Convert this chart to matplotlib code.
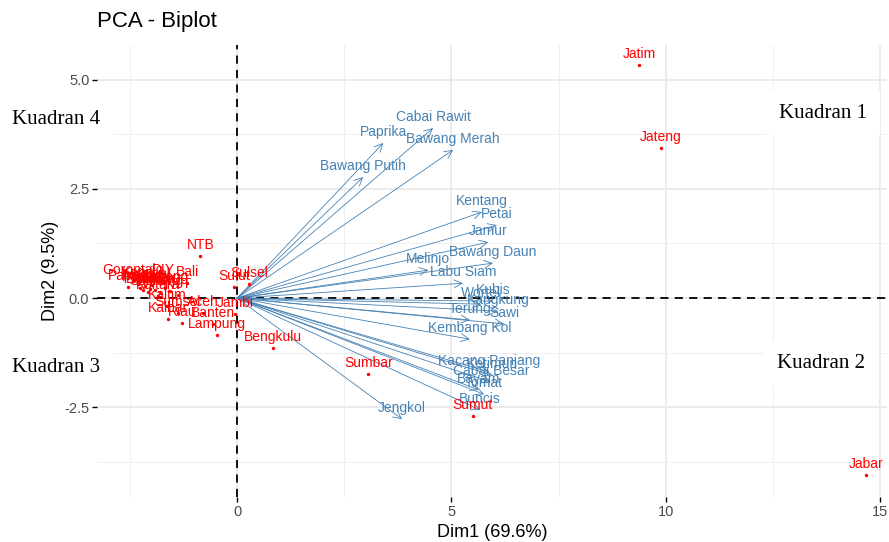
import numpy as np
import matplotlib
matplotlib.use("Agg")
import matplotlib.pyplot as plt
from matplotlib.ticker import FixedLocator

plt.rcParams['font.family'] = ['Liberation Sans', 'DejaVu Sans']

# ------------------------------
# Koordinat individu (provinsi)
# ------------------------------
provinsi = ["Jatim", "Jateng", "Jabar", "Sumbar", "Sumut", "Bengkulu", "NTB",
            "Sulsel", "Sulut", "Jambi", "Banten", "Lampung", "Riau", "Kalbar",
            "Sumsel", "Aceh", "Kaltim", "NTT", "Papua", "Pabar", "Maluku",
            "Malut", "Sulbar", "Sultra", "Sulteng", "Kalteng", "Kaltara",
            "Kalsel", "Kepri", "Babel", "DKI", "Gorontalo", "DIY", "Bali"]
dim1_ind = [9.38, 9.89, 14.67, 3.06, 5.50, 0.84, -0.86,
            0.28, -0.07, -0.05, -0.56, -0.47, -1.28, -1.61,
            -1.38, -0.79, -1.63, -1.38, -2.54, -2.26, -2.15,
            -2.03, -1.91, -2.08, -1.80, -1.68, -1.84,
            -1.98, -2.31, -2.19, -1.56, -2.43, -1.73, -1.17]
dim2_ind = [5.33, 3.43, -4.05, -1.74, -2.70, -1.14, 0.96,
            0.32, 0.25, -0.37, -0.59, -0.85, -0.57, -0.48,
            -0.34, -0.34, -0.18, 0.07, 0.25, 0.23, 0.27,
            0.20, 0.18, 0.14, 0.14, 0.23, 0.05,
            0.30, 0.32, 0.18, 0.16, 0.38, 0.38, 0.34]

# ------------------------------
# Koordinat variabel (komoditas)
# ------------------------------
variabel = ["Cabai Rawit", "Paprika", "Bawang Merah", "Bawang Putih", "Kentang",
            "Petai", "Jamur", "Bawang Daun", "Melinjo", "Labu Siam", "Kubis",
            "Wortel", "Kangkung", "Terung", "Sawi", "Kembang Kol",
            "Kacang Panjang", "Ketimun", "Cabai Besar", "Bayam", "Tomat",
            "Buncis", "Jengkol"]
dim1_var = [4.57, 3.41, 5.04, 2.94, 5.71,
            6.06, 5.86, 5.97, 4.46, 5.27, 5.97,
            5.69, 6.09, 5.43, 6.23, 5.43,
            5.88, 5.95, 5.92, 5.64, 5.76,
            5.67, 3.85]
dim2_var = [3.89, 3.55, 3.39, 2.77, 1.97,
            1.67, 1.28, 0.80, 0.64, 0.34, -0.07,
            -0.14, -0.30, -0.50, -0.59, -0.94,
            -1.69, -1.76, -1.92, -2.10, -2.20,
            -2.56, -2.77]

kuadran = ["Kuadran 1", "Kuadran 2", "Kuadran 3", "Kuadran 4"]

W, H = 889, 542
fig = plt.figure(figsize=(W / 100, H / 100), dpi=100)
ax = fig.add_axes([97 / W, 1 - 497 / H, (887 - 97) / W, (497 - 45) / H])

ax.set_xlim(-3.27, 15.16)
ax.set_ylim(-4.55, 5.79)

# grid ala theme_minimal
ax.xaxis.set_major_locator(FixedLocator([0, 5, 10, 15]))
ax.yaxis.set_major_locator(FixedLocator([-2.5, 0, 2.5, 5]))
ax.xaxis.set_minor_locator(FixedLocator([-2.5, 2.5, 7.5, 12.5]))
ax.yaxis.set_minor_locator(FixedLocator([-3.75, -1.25, 1.25, 3.75]))
ax.grid(which='major', color='#EBEBEB', linewidth=1.4)
ax.grid(which='minor', color='#F0F0F0', linewidth=0.8)
ax.set_axisbelow(True)
for s in ax.spines.values():
    s.set_visible(False)
ax.set_yticklabels(["-2.5", "0.0", "2.5", "5.0"])
ax.tick_params(which='major', length=3.5, width=1.0, color='black',
               labelsize=10.5, labelcolor='#4D4D4D', pad=2)
ax.tick_params(which='minor', length=0)

# garis sumbu putus-putus
ax.axhline(0, color='black', linestyle=(0, (4.5, 3.5)), linewidth=1.3, zorder=1)
ax.axvline(0, color='black', linestyle=(0, (4.5, 3.5)), linewidth=1.3, zorder=1)

# panah variabel
biru = '#4682B4'
for nama, vx, vy in zip(variabel, dim1_var, dim2_var):
    ax.annotate('', xy=(vx, vy), xytext=(0, 0),
                arrowprops=dict(arrowstyle='->,head_length=0.45,head_width=0.22',
                                color=biru, lw=0.6, shrinkA=0, shrinkB=0,
                                mutation_scale=13), zorder=2)
    ax.annotate(nama, xy=(vx, vy), xytext=(0, 8), textcoords='offset points',
                ha='center', va='center', color=biru, fontsize=10, zorder=3)

# titik individu
ax.scatter(dim1_ind, dim2_ind, s=6, color='#FF0000', zorder=4, linewidths=0)
for nama, px, py in zip(provinsi, dim1_ind, dim2_ind):
    ax.annotate(nama, xy=(px, py), xytext=(0, 8), textcoords='offset points',
                ha='center', va='center', color='#FF0000', fontsize=10, zorder=4)

ax.set_xlabel("Dim1 (69.6%)", fontsize=13, labelpad=4)
ax.set_ylabel("Dim2 (9.5%)", fontsize=13, labelpad=4)
fig.text(97 / W, 1 - 22 / H, "PCA - Biplot", fontsize=16, ha='left', va='center')

# label kuadran
posisi = [(823, 113), (821, 363), (56, 368), (56, 120)]
for teks, (kx, ky) in zip(kuadran, posisi):
    fig.text(kx / W, 1 - ky / H, teks, fontsize=15, family='Liberation Serif',
             ha='center', va='center', zorder=10,
             bbox=dict(boxstyle='square,pad=0.6', facecolor='white', edgecolor='none'))

fig.savefig("out.png", dpi=100)
